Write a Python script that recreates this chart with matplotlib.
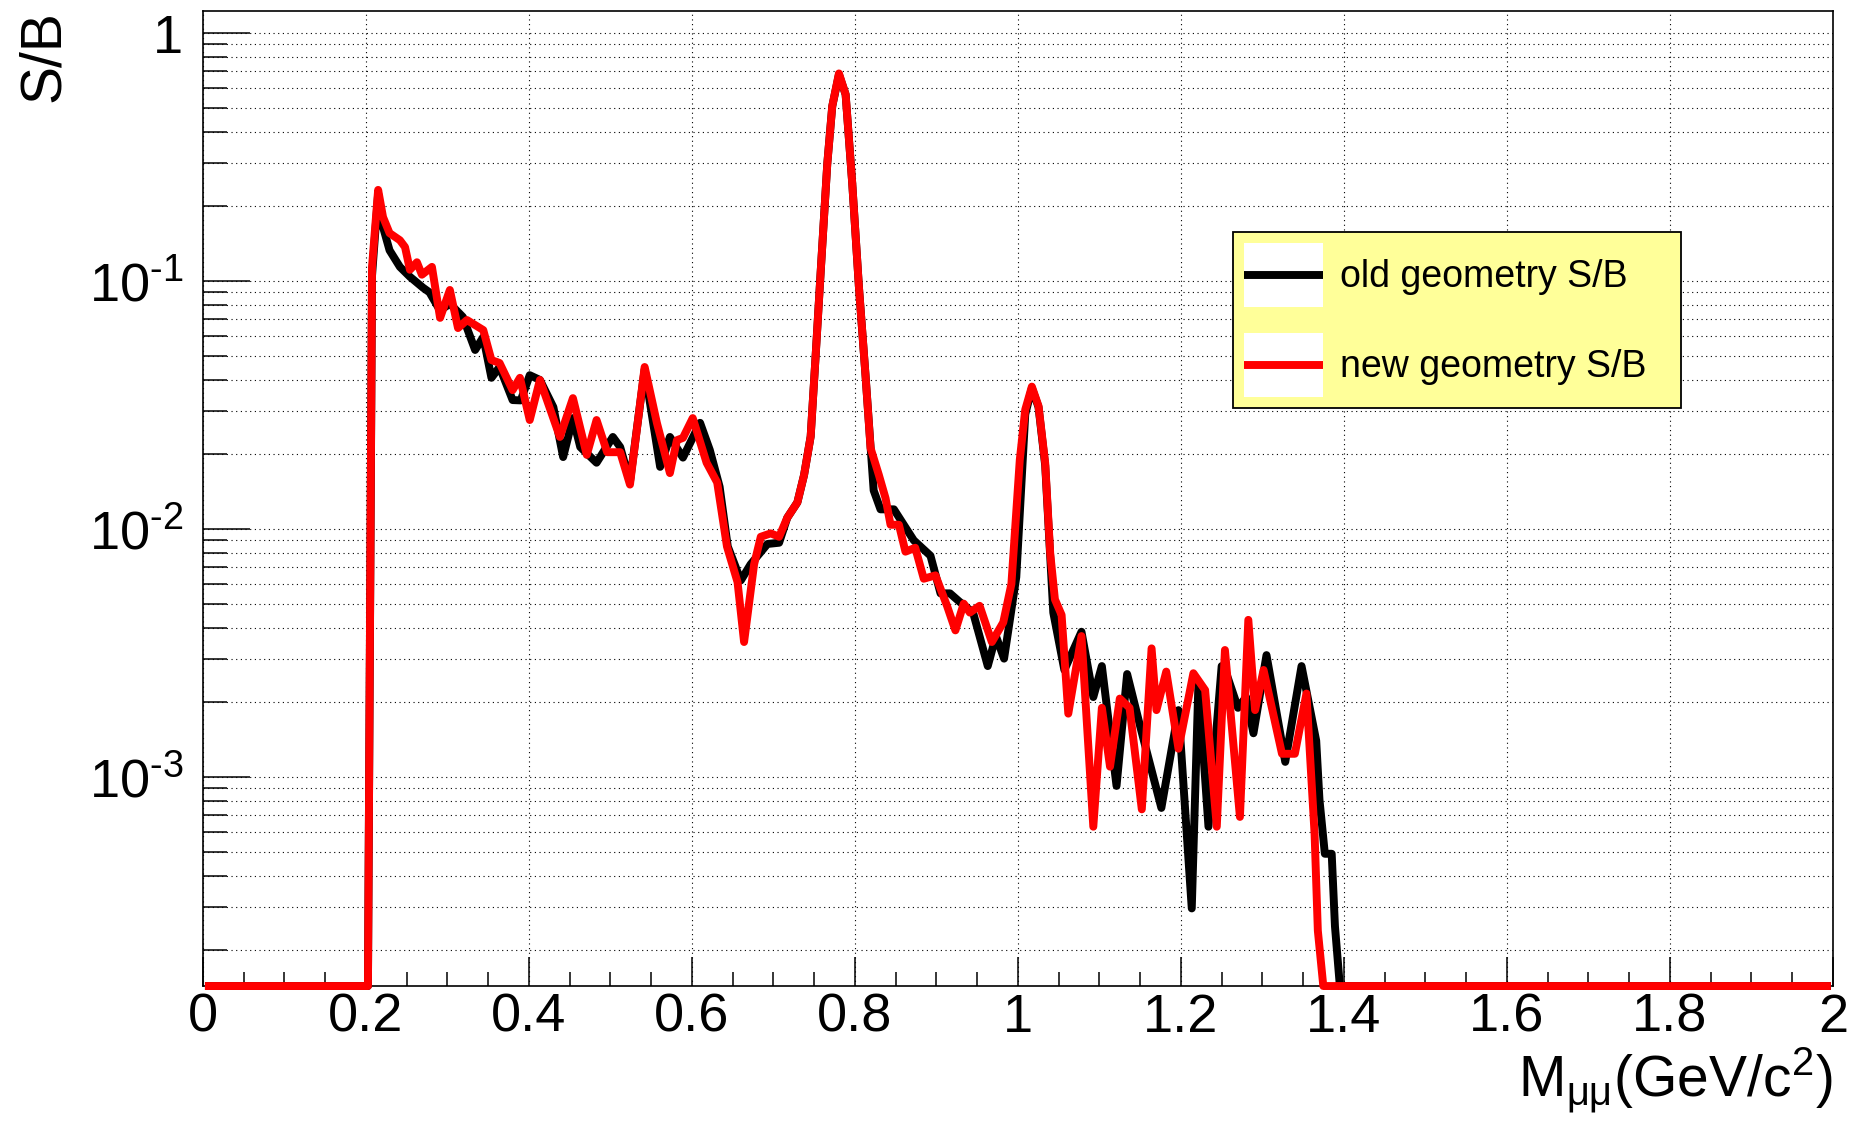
import numpy as np
import matplotlib
matplotlib.use("Agg")
import matplotlib.pyplot as plt
from matplotlib.ticker import MultipleLocator, LogLocator, FuncFormatter, NullFormatter
from matplotlib.patches import Rectangle
from matplotlib.lines import Line2D
from matplotlib.legend_handler import HandlerBase

# ---- data: signal over background vs dimuon invariant mass ----
mass_old = [0.0025, 0.2025, 0.2075, 0.2150, 0.2210, 0.2290, 0.2417, 0.2540, 0.2700, 0.2780,
            0.2910, 0.3030, 0.3190, 0.3340, 0.3440, 0.3540, 0.3640, 0.3800, 0.3900, 0.4010,
            0.4135, 0.4300, 0.4420, 0.4540, 0.4630, 0.4830, 0.5030, 0.5120, 0.5240, 0.5420,
            0.5610, 0.5730, 0.5890, 0.6100, 0.6220, 0.6340, 0.6440, 0.6600, 0.6720, 0.6927,
            0.7070, 0.7170, 0.7294, 0.7376, 0.7457, 0.7518, 0.7580, 0.7661, 0.7722, 0.7804,
            0.7886, 0.7967, 0.8049, 0.8130, 0.8230, 0.8314, 0.8478, 0.8722, 0.8927, 0.9050,
            0.9166, 0.9280, 0.9450, 0.9630, 0.9730, 0.9830, 0.9980, 1.0090, 1.0171, 1.0253,
            1.0335, 1.0434, 1.0570, 1.0780, 1.0925, 1.1030, 1.1210, 1.1340, 1.1500, 1.1760,
            1.1970, 1.2133, 1.2215, 1.2338, 1.2500, 1.2560, 1.2700, 1.2800, 1.2890, 1.3050,
            1.3280, 1.3480, 1.3660, 1.3700, 1.3766, 1.3850, 1.3890, 1.3950, 1.9975]
sb_old = [0, 0, 0.105, 0.225, 0.165, 0.133, 0.114, 0.104, 0.094, 0.090,
          0.076, 0.081, 0.0716, 0.0527, 0.0594, 0.0407, 0.045, 0.0331, 0.033, 0.0417,
          0.0399, 0.031, 0.0195, 0.028, 0.0214, 0.0185, 0.0235, 0.0214, 0.0155, 0.044,
          0.0178, 0.0235, 0.0194, 0.0268, 0.0208, 0.0148, 0.0085, 0.0062, 0.0072, 0.0087,
          0.0088, 0.0111, 0.0128, 0.0165, 0.0236, 0.0499, 0.109, 0.297, 0.507, 0.68,
          0.565, 0.248, 0.0948, 0.0417, 0.0143, 0.012, 0.012, 0.009, 0.0078, 0.0055,
          0.0055, 0.0051, 0.0046, 0.0028, 0.0037, 0.0030, 0.0064, 0.029, 0.037, 0.031,
          0.018, 0.0046, 0.0027, 0.00385, 0.0021, 0.0028, 0.00092, 0.0026, 0.0016, 0.00075,
          0.00186, 0.000295, 0.0024, 0.00063, 0.0028, 0.0026, 0.0019, 0.0021, 0.0015, 0.0031,
          0.00115, 0.0028, 0.0014, 0.00081, 0.00049, 0.00049, 0.00025, 0, 0]

mass_new = [0.0025, 0.2025, 0.2075, 0.2150, 0.2210, 0.2290, 0.2417, 0.2480, 0.2540, 0.2626,
            0.2687, 0.2810, 0.2910, 0.3030, 0.3130, 0.3240, 0.3440, 0.3540, 0.3640, 0.3800,
            0.3890, 0.4010, 0.4135, 0.4380, 0.4540, 0.4710, 0.4830, 0.4960, 0.5120, 0.5240,
            0.5420, 0.5570, 0.5730, 0.5816, 0.5890, 0.6010, 0.6180, 0.6310, 0.6430, 0.6560,
            0.6640, 0.6763, 0.6845, 0.6967, 0.7070, 0.7170, 0.7294, 0.7376, 0.7457, 0.7518,
            0.7580, 0.7661, 0.7722, 0.7804, 0.7886, 0.7967, 0.8049, 0.8130, 0.8192, 0.8294,
            0.8376, 0.8437, 0.8540, 0.8620, 0.8740, 0.8845, 0.8988, 0.9130, 0.9233, 0.9335,
            0.9410, 0.9530, 0.9680, 0.9820, 0.9920, 1.0023, 1.0090, 1.0171, 1.0253, 1.0335,
            1.0396, 1.0454, 1.0536, 1.0618, 1.0780, 1.0925, 1.1030, 1.1130, 1.1250, 1.1370,
            1.1520, 1.1640, 1.1700, 1.1820, 1.1970, 1.2153, 1.2297, 1.2440, 1.2540, 1.2724,
            1.2827, 1.2910, 1.3014, 1.3240, 1.3398, 1.3540, 1.3640, 1.3680, 1.3747, 1.9975]
sb_new = [0, 0, 0.114, 0.233, 0.181, 0.156, 0.146, 0.137, 0.111, 0.119,
          0.106, 0.114, 0.071, 0.092, 0.0646, 0.0696, 0.0634, 0.048, 0.0467, 0.0363,
          0.0407, 0.0275, 0.0399, 0.0235, 0.0337, 0.0199, 0.0275, 0.0204, 0.0204, 0.0151,
          0.045, 0.0268, 0.0168, 0.0228, 0.0233, 0.028, 0.0185, 0.0154, 0.0085, 0.0061,
          0.0035, 0.0072, 0.0093, 0.0096, 0.0093, 0.0111, 0.0128, 0.0165, 0.0236, 0.0499,
          0.109, 0.297, 0.507, 0.687, 0.565, 0.248, 0.0948, 0.0417, 0.0212, 0.0165,
          0.0133, 0.0104, 0.0104, 0.0081, 0.0084, 0.0063, 0.0065, 0.0049, 0.0039, 0.005,
          0.0046, 0.0049, 0.0035, 0.0042, 0.006, 0.019, 0.0303, 0.0375, 0.0313, 0.0184,
          0.008, 0.0052, 0.0045, 0.0018, 0.0037, 0.00063, 0.0019, 0.0011, 0.00207, 0.0019,
          0.00074, 0.0033, 0.00186, 0.00266, 0.0013, 0.00262, 0.00224, 0.00063, 0.00325, 0.00069,
          0.0043, 0.00186, 0.0027, 0.00124, 0.00124, 0.00217, 0.00059, 0.00024, 0, 0]

labels = ["old geometry S/B", "new geometry S/B"]
x_label = r"M$_{\mathrm{\mu\mu}}$(GeV/c$^{2}$)"
y_label = "S/B"

# ---- style ----
FONT = "Liberation Sans"
plt.rcParams["font.family"] = [FONT, "DejaVu Sans"]
plt.rcParams["mathtext.fontset"] = "custom"
plt.rcParams["mathtext.rm"] = FONT
plt.rcParams["mathtext.it"] = FONT + ":italic"
plt.rcParams["mathtext.bf"] = FONT + ":bold"
plt.rcParams["mathtext.sf"] = FONT

Y_MIN, Y_MAX = 1.435e-4, 1.227
LW = 5.7


class SwatchHandler(HandlerBase):
    """Legend entry: white swatch with the line sample across its middle."""

    def create_artists(self, legend, orig_handle, xdescent, ydescent,
                       width, height, fontsize, trans):
        box = Rectangle((-xdescent, -ydescent), width, height,
                        facecolor="white", edgecolor="none", transform=trans)
        yc = -ydescent + height / 2.0
        ln = Line2D([-xdescent, -xdescent + width], [yc, yc],
                    color=orig_handle.get_color(), lw=orig_handle.get_linewidth(),
                    solid_capstyle="butt", transform=trans)
        return [box, ln]


fig = plt.figure(figsize=(18.65, 11.21), dpi=100)
ax = fig.add_axes([0.1088, 0.1204, 0.8740, 0.8698])
ax.set_yscale("log")
ax.set_xlim(0, 2)
ax.set_ylim(Y_MIN, Y_MAX)

# empty bins sit on the lower frame edge
def floored(v):
    v = np.asarray(v, dtype=float)
    return np.where(v > 0, v, Y_MIN)

line_kw = dict(lw=LW, solid_joinstyle="round", solid_capstyle="butt", clip_on=False, zorder=3)
l_old, = ax.plot(mass_old, floored(sb_old), color="black", **line_kw)
l_new, = ax.plot(mass_new, floored(sb_new), color="#ff0000", **line_kw)

# ticks
ax.xaxis.set_major_locator(MultipleLocator(0.2))
ax.xaxis.set_minor_locator(MultipleLocator(0.05))
ax.xaxis.set_major_formatter(FuncFormatter(lambda v, p: "%g" % round(v, 3)))
ax.yaxis.set_major_locator(LogLocator(base=10, subs=(1.0,)))
ax.yaxis.set_minor_locator(LogLocator(base=10, subs=np.arange(2, 10)))
ax.yaxis.set_minor_formatter(NullFormatter())

def ylab(v, pos):
    e = int(round(np.log10(v)))
    if e == 0:
        return "1"
    sign = r"\text{-}" if e < 0 else ""
    return r"$\mathregular{10^{%s%d}}$" % (sign, abs(e))

ax.yaxis.set_major_formatter(FuncFormatter(ylab))

ax.tick_params(axis="x", which="major", direction="in", length=21, width=1.1,
               labelsize=39, pad=5, top=False)
ax.tick_params(axis="x", which="minor", direction="in", length=10, width=1.1, top=False)
ax.tick_params(axis="y", which="major", direction="in", length=34, width=1.1,
               labelsize=39, pad=14, right=False)
ax.tick_params(axis="y", which="minor", direction="in", length=17, width=1.1, right=False)

for s in ax.spines.values():
    s.set_linewidth(1.2)
    s.set_color("black")

grid_kw = dict(color="black", lw=0.8, linestyle=(0, (1, 3.2)))
ax.grid(True, axis="x", which="major", **grid_kw)
ax.grid(True, axis="y", which="both", **grid_kw)
ax.set_axisbelow(True)

# axis titles
ax.set_xlabel(x_label, fontsize=41, ha="right", va="baseline")
ax.xaxis.set_label_coords(1.0, -0.1138)
ax.set_ylabel(y_label, fontsize=41, ha="right", va="baseline")
ax.yaxis.set_label_coords(-0.0885, 1.001)

# legend with white swatches behind the line samples
leg = ax.legend([l_old, l_new], labels, handler_map={Line2D: SwatchHandler()},
                loc="upper left", bbox_to_anchor=(0.632, 0.5887, 0.275, 0.1846),
                mode="expand", borderaxespad=0, fontsize=27,
                handlelength=2.1, handleheight=2.25, handletextpad=0.45,
                borderpad=0.3, labelspacing=0.69, fancybox=False, framealpha=1,
                facecolor="#ffff99", edgecolor="black")
leg.get_frame().set_linewidth(1.3)
leg.set_zorder(5)

fig.savefig("out.png", dpi=100)
